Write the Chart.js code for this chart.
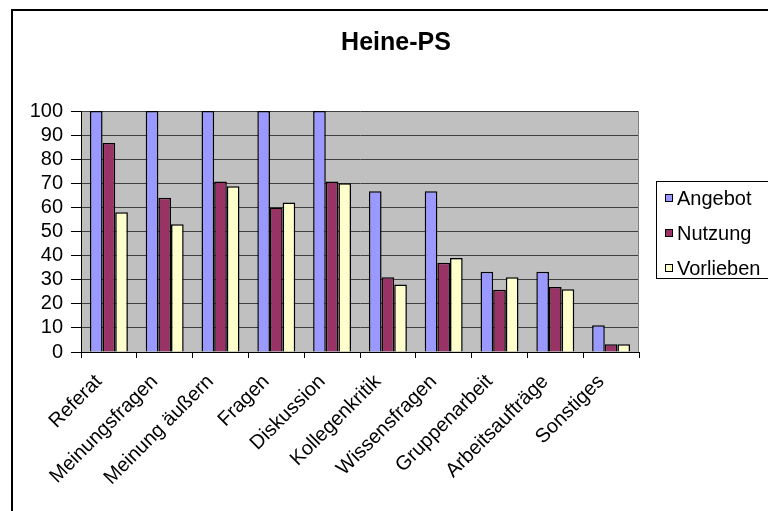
<!DOCTYPE html>
<html>
<head>
<meta charset="utf-8">
<script src="https://cdn.jsdelivr.net/npm/chart.js@4/dist/chart.umd.min.js"></script>
<style>
  html, body { margin: 0; padding: 0; background: #fff; }
  canvas { display: block; }
</style>
</head>
<body>
<canvas id="c" width="768" height="511"></canvas>
<script>
const chartTitle = 'Heine-PS';
const categories = ['Referat', 'Meinungsfragen', 'Meinung äußern', 'Fragen', 'Diskussion',
  'Kollegenkritik', 'Wissensfragen', 'Gruppenarbeit', 'Arbeitsaufträge', 'Sonstiges'];
const seriesNames = ['Angebot', 'Nutzung', 'Vorlieben'];
const angebot   = [100, 100, 100, 100, 100, 66.7, 66.7, 33.3, 33.3, 11.1];
const nutzung   = [86.7, 64, 70.7, 60, 70.7, 31, 37, 25.8, 27, 3.2];
const vorlieben = [58, 53, 68.8, 62, 70, 28, 39, 31, 26, 3.2];
const yTicks = [0, 10, 20, 30, 40, 50, 60, 70, 80, 90, 100];

const FONT = '"Liberation Sans", Arial, sans-serif';
const colors = ['#9999FF', '#993366', '#FFFFCC'];

// Gray plot area, white page, outer frame, title and legend box
const decor = {
  id: 'decor',
  beforeDraw(chart) {
    const { ctx, chartArea: a } = chart;
    ctx.save();
    ctx.fillStyle = '#ffffff';
    ctx.fillRect(0, 0, chart.width, chart.height);
    ctx.fillStyle = '#C0C0C0';
    ctx.fillRect(a.left, a.top, a.right - a.left, a.bottom - a.top);
    ctx.restore();
  },
  afterDraw(chart) {
    const { ctx, chartArea: a } = chart;
    ctx.save();
    // right edge of plot area
    ctx.strokeStyle = '#808080';
    ctx.lineWidth = 1;
    ctx.beginPath();
    ctx.moveTo(a.right - 0.5, a.top);
    ctx.lineTo(a.right - 0.5, a.bottom);
    ctx.stroke();

    // outer chart frame
    ctx.strokeStyle = '#000';
    ctx.lineWidth = 2;
    ctx.strokeRect(12, 10, 800, 600);

    // title
    ctx.fillStyle = '#000';
    ctx.font = 'bold 25px ' + FONT;
    ctx.textAlign = 'center';
    ctx.textBaseline = 'middle';
    ctx.fillText(chartTitle, 396, 43);

    // legend
    ctx.lineWidth = 1;
    ctx.strokeStyle = '#000';
    ctx.strokeRect(656.5, 181.5, 140, 97);
    ctx.font = '20px ' + FONT;
    ctx.textAlign = 'left';
    chart.data.datasets.forEach((ds, i) => {
      const cy = 198 + i * 35;
      ctx.fillStyle = ds.backgroundColor;
      ctx.fillRect(665, cy - 4, 8, 8);
      ctx.strokeRect(665.5, cy - 3.5, 7, 7);
      ctx.fillStyle = '#000';
      ctx.fillText(ds.label, 677, cy + 1);
    });
    ctx.restore();
  }
};

const datasets = [angebot, nutzung, vorlieben].map((vals, i) => ({
  label: seriesNames[i],
  data: vals,
  backgroundColor: colors[i],
  borderColor: '#000',
  borderWidth: 1.5,
  categoryPercentage: 0.68,
  barPercentage: 1.0
}));

new Chart(document.getElementById('c'), {
  type: 'bar',
  data: { labels: categories, datasets },
  options: {
    responsive: false,
    animation: false,
    devicePixelRatio: 1,
    layout: { padding: { left: 0, right: 129, top: 111, bottom: 0 } },
    plugins: {
      legend: { display: false },
      title: { display: false },
      tooltip: { enabled: false }
    },
    scales: {
      x: {
        afterFit(scale) { scale.height = 159; },
        grid: {
          offset: true,
          drawOnChartArea: false,
          drawTicks: true,
          tickLength: 6,
          tickColor: '#000',
          color: '#000'
        },
        border: { display: true, color: '#000', width: 1 },
        ticks: {
          autoSkip: false,
          minRotation: 45,
          maxRotation: 45,
          padding: 12,
          labelOffset: -10,
          color: '#000',
          font: { family: FONT, size: 20 }
        }
      },
      y: {
        min: 0,
        max: 100,
        afterFit(scale) { scale.width = 81; },
        afterBuildTicks(scale) { scale.ticks = yTicks.map(v => ({ value: v })); },
        grid: {
          color: '#404040',
          lineWidth: 1,
          tickLength: 10,
          tickColor: '#000'
        },
        border: { display: true, color: '#000', width: 1 },
        ticks: {
          autoSkip: false,
          stepSize: 10,
          padding: 8,
          color: '#000',
          font: { family: FONT, size: 20 }
        }
      }
    }
  },
  plugins: [decor]
});
</script>
</body>
</html>
